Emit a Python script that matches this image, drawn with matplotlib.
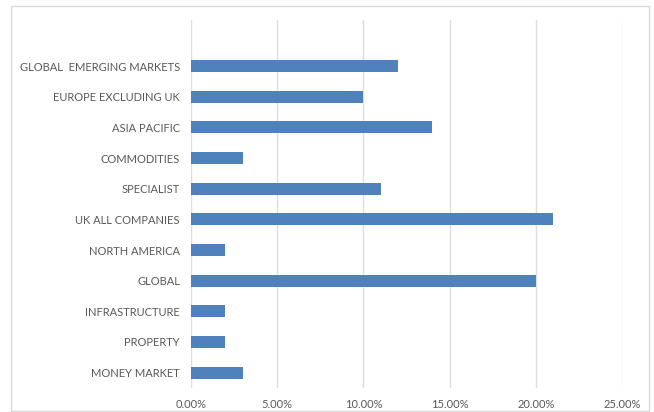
import matplotlib
matplotlib.use("Agg")
import matplotlib.pyplot as plt
from matplotlib.patches import Rectangle
from matplotlib.ticker import FuncFormatter

categories = ["MONEY MARKET", "PROPERTY", "INFRASTRUCTURE", "GLOBAL", "NORTH AMERICA",
              "UK ALL COMPANIES", "SPECIALIST", "COMMODITIES", "ASIA PACIFIC",
              "EUROPE EXCLUDING UK", "GLOBAL  EMERGING MARKETS"]
values = [3, 2, 2, 20, 2, 21, 11, 3, 14, 10, 12]
xticks = [0, 5, 10, 15, 20, 25]

plt.rcParams['font.family'] = ['Lato', 'DejaVu Sans']

fig = plt.figure(figsize=(6.54, 4.12), dpi=100)
fig.patches.append(Rectangle((11/654, 1/412), 638/654, 405/412, transform=fig.transFigure,
                             fill=False, edgecolor="#d9d9d9", linewidth=1))
ax = fig.add_axes([191/654, 1 - 388/412, 431/654, 368/412])

y = list(range(len(categories)))
ax.barh(y, values, height=0.4, color="#4F81BD", zorder=3)
ax.set_yticks(y)
ax.set_yticklabels(categories)
ax.set_ylim(-0.5, len(categories) + 0.5)
ax.set_xlim(0, 25)
ax.set_xticks(xticks)
ax.xaxis.set_major_formatter(FuncFormatter(lambda v, p: f"{v:.2f}%"))
ax.grid(axis="x", color="#dedede", linewidth=1, zorder=0)
for s in ax.spines.values():
    s.set_visible(False)
ax.tick_params(axis="both", length=0, colors="#595959", labelsize=8)
ax.tick_params(axis="x", pad=8)
ax.tick_params(axis="y", pad=8)

fig.savefig("out.png", dpi=100)
